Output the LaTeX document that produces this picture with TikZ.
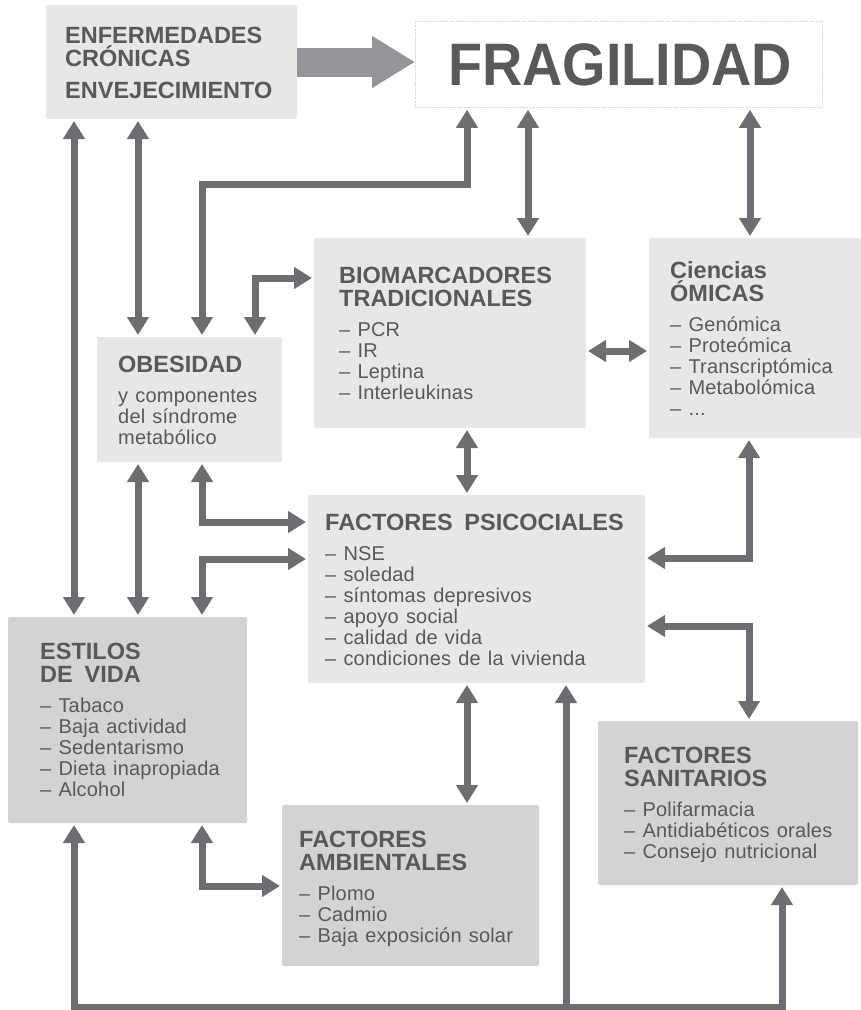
\documentclass[tikz,border=0pt]{standalone}
\usepackage{fontspec}
\usepackage{graphicx}
\setmainfont{Liberation Sans}
\newfontfamily\lstfamily{Liberation Sans}[LetterSpace=1]
\usetikzlibrary{arrows.meta}
\setlength{\parindent}{0pt}
\definecolor{boxlight}{HTML}{E6E7E8}
\definecolor{boxdark}{HTML}{D1D3D4}
\definecolor{linkgray}{HTML}{6D6E71}
\definecolor{biggray}{HTML}{939598}
\definecolor{textgray}{HTML}{58595B}
\newcommand{\hdfont}{\fontsize{23.5}{23}\selectfont\bfseries\spaceskip=0.5em\relax}
\newcommand{\lstfont}{\lstfamily\fontsize{20}{21}\selectfont\spaceskip=0.36em\relax}
\newcommand{\lstdash}{– }

\begin{document}
\begin{tikzpicture}[x=1pt, y=-1pt,
  lightbox/.style={fill=boxlight, rounded corners=2pt, inner sep=0pt, outer sep=0pt, anchor=north west},
  darkbox/.style={lightbox, fill=boxdark},
  txt/.style={anchor=base west, inner sep=0pt, text=textgray, text width=320pt, align=left},
  link/.style={draw=linkgray, line width=7pt, {Triangle[width=21pt,length=18pt]}-{Triangle[width=21pt,length=18pt]}, shorten <=2pt, shorten >=2pt},
  uplink/.style={link, -{Triangle[width=21pt,length=18pt]}}]
  \useasboundingbox (0,0) rectangle (861,1010);

  \node[lightbox, minimum width=251pt, minimum height=114pt] (enf) at (46,5) {};
  \node[draw=boxdark, densely dotted, line width=0.8pt, inner sep=0pt, anchor=north west, minimum width=407pt, minimum height=86pt] (frag) at (415,21) {};
  \node[lightbox, minimum width=272pt, minimum height=190pt] (bio) at (314,238) {};
  \node[lightbox, minimum width=212pt, minimum height=200pt] (omic) at (649,238) {};
  \node[lightbox, minimum width=185pt, minimum height=125pt] (obes) at (97,337) {};
  \node[lightbox, minimum width=337pt, minimum height=188pt] (psico) at (308,495) {};
  \node[darkbox, minimum width=239pt, minimum height=206pt] (estilos) at (8,617) {};
  \node[darkbox, minimum width=257pt, minimum height=161pt] (amb) at (282,805) {};
  \node[darkbox, minimum width=260pt, minimum height=164pt] (sanit) at (598,721) {};

  \node[txt] (enf-t) at (65,43) {{\hdfont ENFERMEDADES\\CRÓNICAS\par}\vspace{9pt}{\hdfont ENVEJECIMIENTO\par}};
  \node[anchor=base west, inner sep=0pt, text=textgray, font=\fontsize{60}{60}\selectfont\bfseries] (frag-t) at (448,85) {\scalebox{0.93}[1]{FRAGILIDAD}};
  \node[txt] (bio-t) at (339,283) {{\hdfont BIOMARCADORES\\TRADICIONALES\par}\vspace{9pt}{\lstfont \lstdash PCR\\\lstdash IR\\\lstdash Leptina\\\lstdash Interleukinas\par}};
  \node[txt] (omic-t) at (670,278) {{\hdfont Ciencias\\ÓMICAS\par}\vspace{9pt}{\lstfont \lstdash Genómica\\\lstdash Proteómica\\\lstdash Transcriptómica\\\lstdash Metabolómica\\\lstdash ...\par}};
  \node[txt] (obes-t) at (118,372) {{\hdfont OBESIDAD\par}\vspace{9pt}{\lstfont y componentes\\del síndrome\\metabólico\par}};
  \node[txt] (psico-t) at (325,530) {{\hdfont FACTORES PSICOCIALES\par}\vspace{9pt}{\lstfont \lstdash NSE\\\lstdash soledad\\\lstdash síntomas depresivos\\\lstdash apoyo social\\\lstdash calidad de vida\\\lstdash condiciones de la vivienda\par}};
  \node[txt] (estilos-t) at (40,659) {{\hdfont ESTILOS\\DE VIDA\par}\vspace{9pt}{\lstfont \lstdash Tabaco\\\lstdash Baja actividad\\\lstdash Sedentarismo\\\lstdash Dieta inapropiada\\\lstdash Alcohol\par}};
  \node[txt] (amb-t) at (299,847) {{\hdfont FACTORES\\AMBIENTALES\par}\vspace{9pt}{\lstfont \lstdash Plomo\\\lstdash Cadmio\\\lstdash Baja exposición solar\par}};
  \node[txt] (sanit-t) at (624,763) {{\hdfont FACTORES\\SANITARIOS\par}\vspace{9pt}{\lstfont \lstdash Polifarmacia\\\lstdash Antidiabéticos orales\\\lstdash Consejo nutricional\par}};

  \coordinate (c74) at (74,0);
  \coordinate (c138) at (138,0);
  \coordinate (c467) at (467,0);
  \coordinate (c528) at (528,0);
  \coordinate (c750) at (750,0);
  \coordinate (r351) at (0,351);
  \coordinate (k1) at (202,184);
  \coordinate (k2) at (255,278);
  \coordinate (k3) at (202,522);
  \coordinate (k4) at (202,559);
  \coordinate (k5) at (749,558);
  \coordinate (k6) at (749,626);
  \coordinate (k7) at (202,886);
  \coordinate (b1) at (74,1007);
  \coordinate (b2) at (566,1007);
  \coordinate (b3) at (782,1007);

  \draw[draw=biggray, line width=29pt, -{Triangle[width=49pt,length=43pt]}] (enf.east) -- (frag.west |- enf.east);
  \draw[link] (enf.south -| c74) -- (estilos.north -| c74);
  \draw[link] (enf.south -| c138) -- (obes.north -| c138);
  \draw[link] (obes.south -| c138) -- (estilos.north -| c138);
  \draw[link] (obes.north -| k1) -- (k1) -| (frag.south -| c467);
  \draw[link] (obes.north -| k2) |- (bio.west |- k2);
  \draw[link] (frag.south -| c528) -- (bio.north -| c528);
  \draw[link] (frag.south -| c750) -- (omic.north -| c750);
  \draw[link] (bio.east |- r351) -- (omic.west |- r351);
  \draw[link] (obes.south -| k3) |- (psico.west |- k3);
  \draw[link] (psico.west |- k4) -| (estilos.north -| k4);
  \draw[link] (bio.south -| c467) -- (psico.north -| c467);
  \draw[link] (omic.south -| k5) |- (psico.east |- k5);
  \draw[link] (psico.east |- k6) -| (sanit.north -| k6);
  \draw[link] (estilos.south -| k7) |- (amb.west |- k7);
  \draw[link] (psico.south -| c467) -- (amb.north -| c467);
  \draw[link] (estilos.south -| b1) -- (b1) -- (b3) -- (sanit.south -| b3);
  \draw[uplink] (b2) -- (psico.south -| b2);
\end{tikzpicture}
\end{document}
